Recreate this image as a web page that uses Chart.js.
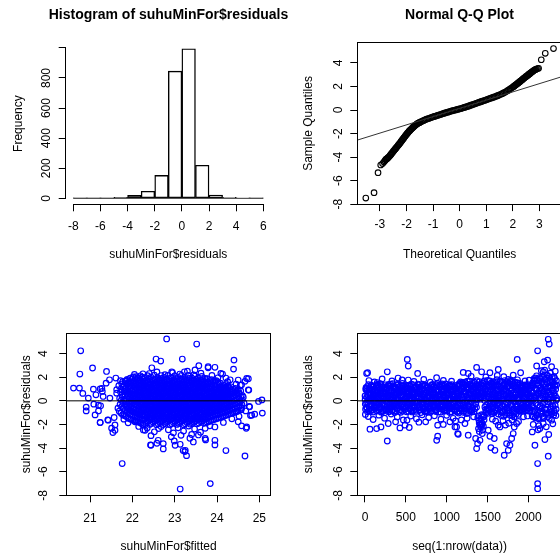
<!DOCTYPE html>
<html>
<head>
<meta charset="utf-8">
<script src="https://cdn.jsdelivr.net/npm/chart.js@4/dist/chart.umd.min.js"></script>
<style>
html,body{margin:0;padding:0;background:#fff;overflow:hidden;width:560px;height:554px;}
canvas{position:absolute;}
</style>
</head>
<body>
<canvas id="histCanvas" width="337" height="280" style="left:0;top:0"></canvas>
<canvas id="qqCanvas" width="359" height="280" style="left:280px;top:0"></canvas>
<canvas id="fitCanvas" width="290" height="264" style="left:0;top:290px"></canvas>
<canvas id="seqCanvas" width="290" height="264" style="left:280px;top:290px"></canvas>
<script>
// ---------------- DATA ----------------
// Histogram of residuals
const histBreaks = [-8,-7,-6,-5,-4,-3,-2,-1,0,1,2,3,4,5,6];
const histCounts = [1,1,1,7,20,47,153,845,994,220,22,6,2,1];
const histXTicks = [-8,-6,-4,-2,0,2,4,6];
const histXLabels = ['-8','-6','-4','-2','0','2','4','6'];
const histYTicks = [0,200,400,600,800,1000];
const histYLabels = ['0','200','400','600','800',''];

// Normal Q-Q plot: [theoretical quantile, sample quantile]
const qqPoints = [
[-3.53,-7.48],[-3.22,-7.02],[-3.07,-5.32],[-2.97,-4.67],[-2.90,-4.55],[-2.85,-4.42],[-2.81,-4.30],
[-2.78,-4.22],[-2.76,-4.17],[-2.74,-4.14],[-2.72,-4.11],[-2.70,-4.06],[-2.68,-4.02],[-2.65,-3.95],
[-2.62,-3.87],[-2.60,-3.81],[-2.57,-3.73],[-2.55,-3.66],[-2.52,-3.59],[-2.50,-3.52],[-2.47,-3.44],
[-2.45,-3.38],[-2.42,-3.30],[-2.40,-3.24],[-2.37,-3.16],[-2.35,-3.10],[-2.32,-3.02],[-2.30,-2.96],
[-2.27,-2.88],[-2.25,-2.82],[-2.22,-2.73],[-2.20,-2.67],[-2.17,-2.58],[-2.15,-2.52],[-2.12,-2.43],
[-2.10,-2.37],[-2.07,-2.28],[-2.05,-2.22],[-2.02,-2.13],[-2.00,-2.07],[-1.97,-1.99],[-1.95,-1.93],
[-1.92,-1.85],[-1.90,-1.80],[-1.87,-1.73],[-1.85,-1.68],[-1.82,-1.61],[-1.80,-1.57],[-1.77,-1.50],
[-1.75,-1.46],[-1.72,-1.40],[-1.70,-1.36],[-1.67,-1.30],[-1.65,-1.26],[-1.62,-1.21],[-1.60,-1.17],
[-1.57,-1.13],[-1.55,-1.10],[-1.52,-1.07],[-1.50,-1.05],
[-1.45,-0.99],[-1.40,-0.93],[-1.35,-0.88],[-1.30,-0.83],[-1.25,-0.78],[-1.20,-0.74],[-1.15,-0.70],
[-1.10,-0.66],[-1.05,-0.62],[-1.00,-0.58],[-0.95,-0.54],[-0.90,-0.51],[-0.85,-0.47],[-0.80,-0.44],
[-0.75,-0.40],[-0.70,-0.36],[-0.65,-0.32],[-0.60,-0.29],[-0.55,-0.25],[-0.50,-0.22],[-0.45,-0.18],
[-0.40,-0.15],[-0.35,-0.11],[-0.30,-0.08],[-0.25,-0.05],[-0.20,-0.02],[-0.15,0.01],[-0.10,0.04],
[-0.05,0.07],[0.00,0.10],[0.05,0.13],[0.10,0.17],[0.15,0.20],[0.20,0.24],[0.25,0.27],[0.30,0.31],
[0.35,0.35],[0.40,0.39],[0.45,0.43],[0.50,0.47],[0.55,0.51],[0.60,0.55],[0.65,0.59],[0.70,0.63],
[0.75,0.67],[0.80,0.71],[0.85,0.75],[0.90,0.79],[0.95,0.83],[1.00,0.87],[1.05,0.91],[1.10,0.95],
[1.15,0.99],[1.20,1.03],[1.25,1.07],[1.30,1.11],[1.35,1.15],[1.40,1.20],[1.45,1.24],[1.50,1.29],
[1.55,1.34],[1.60,1.39],[1.65,1.45],[1.70,1.51],[1.75,1.57],[1.80,1.64],[1.85,1.71],[1.90,1.79],
[1.95,1.87],[2.00,1.95],
[2.025,1.99],[2.05,2.03],[2.075,2.08],[2.10,2.12],[2.125,2.16],[2.15,2.21],[2.175,2.25],[2.20,2.30],
[2.225,2.34],[2.25,2.39],[2.275,2.43],[2.30,2.48],[2.325,2.53],[2.35,2.57],[2.375,2.62],[2.40,2.67],
[2.425,2.71],[2.45,2.76],[2.475,2.80],[2.50,2.85],[2.525,2.89],[2.55,2.93],[2.575,2.98],[2.60,3.02],
[2.625,3.07],[2.65,3.11],[2.675,3.16],[2.70,3.20],[2.725,3.25],[2.75,3.29],[2.775,3.33],[2.80,3.38],
[2.83,3.42],[2.86,3.45],[2.89,3.48],[2.93,3.52],[2.97,3.55],
[3.07,4.27],[3.22,4.82],[3.53,5.22]
];
const qqLineX = [-3.9, 3.9];
const qqLineY = [-2.59, 2.87];
const qqXTicks = [-3,-2,-1,0,1,2,3];
const qqXLabels = ['-3','-2','-1','0','1','2','3'];
const residTicks = [-8,-6,-4,-2,0,2,4];
const residLabels = ['-8','-6','-4','-2','0','2','4'];

// Residuals vs fitted: [fitted, residual]
const fittedCore = [
[21.69,-0.88],[21.71,-0.31],[21.70,0.22],[21.72,0.74],[21.68,1.28],
[21.77,-1.18],[21.79,-0.66],[21.78,-0.19],[21.76,0.35],[21.80,0.82],[21.78,1.21],[21.77,1.62],
[21.85,-1.31],[21.87,-0.92],[21.86,-0.48],[21.84,-0.05],[21.88,0.37],[21.86,0.71],[21.85,1.08],[21.87,1.43],[21.86,1.74],
[21.93,-1.52],[21.95,-1.14],[21.94,-0.79],[21.92,-0.43],[21.96,-0.09],[21.94,0.26],[21.93,0.58],[21.95,0.94],[21.94,1.27],[21.92,1.61],[21.95,1.93],
[22.01,-1.62],[22.03,-1.27],[22.02,-0.95],[22.00,-0.61],[22.04,-0.28],[22.02,0.03],[22.01,0.36],[22.03,0.68],[22.02,1.01],[22.00,1.33],[22.04,1.66],[22.02,2.02],
[22.09,-1.71],[22.11,-1.38],[22.10,-1.06],[22.08,-0.74],[22.12,-0.41],[22.10,-0.12],[22.09,0.19],[22.11,0.49],[22.10,0.81],[22.08,1.12],[22.12,1.44],[22.10,1.76],[22.09,2.05],
[22.17,-1.83],[22.19,-1.49],[22.18,-1.18],[22.16,-0.88],[22.20,-0.57],[22.18,-0.27],[22.17,0.04],[22.19,0.33],[22.18,0.62],[22.16,0.93],[22.20,1.22],[22.18,1.51],[22.17,1.80],[22.19,2.12],
[22.25,-2.04],[22.27,-1.63],[22.26,-1.29],[22.28,-1.07],[22.24,-0.79],[22.26,-0.58],[22.27,-0.31],[22.25,-0.11],[22.26,0.16],[22.28,0.36],[22.24,0.63],[22.26,0.83],[22.27,1.11],[22.25,1.32],[22.26,1.64],[22.28,1.95],
[22.33,-1.85],[22.35,-1.44],[22.34,-1.20],[22.36,-0.91],[22.32,-0.71],[22.34,-0.42],[22.35,-0.23],[22.33,0.05],[22.34,0.24],[22.36,0.52],[22.32,0.71],[22.34,0.99],[22.35,1.19],[22.33,1.49],[22.34,1.76],[22.36,2.13],
[22.41,-2.00],[22.43,-1.59],[22.42,-1.33],[22.44,-1.03],[22.40,-0.83],[22.42,-0.54],[22.43,-0.35],[22.41,-0.07],[22.42,0.12],[22.44,0.40],[22.40,0.59],[22.42,0.87],[22.43,1.07],[22.41,1.36],[22.42,1.60],[22.44,2.00],
[22.49,-1.81],[22.51,-1.48],[22.50,-1.16],[22.52,-0.95],[22.48,-0.67],[22.50,-0.46],[22.51,-0.19],[22.49,0.01],[22.50,0.28],[22.52,0.48],[22.48,0.75],[22.50,0.95],[22.51,1.23],[22.49,1.45],[22.50,1.80],[22.52,2.17],
[22.57,-2.03],[22.59,-1.62],[22.58,-1.30],[22.60,-1.06],[22.56,-0.80],[22.58,-0.57],[22.59,-0.32],[22.57,-0.10],[22.58,0.15],[22.60,0.37],[22.56,0.62],[22.58,0.84],[22.59,1.10],[22.57,1.33],[22.58,1.63],[22.60,1.97],
[22.65,-1.84],[22.67,-1.45],[22.66,-1.19],[22.68,-0.92],[22.64,-0.70],[22.66,-0.43],[22.67,-0.22],[22.65,0.04],[22.66,0.25],[22.68,0.51],[22.64,0.72],[22.66,0.98],[22.67,1.20],[22.65,1.48],[22.66,1.77],[22.68,2.14],
[22.73,-2.01],[22.75,-1.60],[22.74,-1.32],[22.76,-1.04],[22.72,-0.82],[22.74,-0.55],[22.75,-0.34],[22.73,-0.08],[22.74,0.13],[22.76,0.39],[22.72,0.60],[22.74,0.86],[22.75,1.08],[22.73,1.35],[22.74,1.61],[22.76,1.99],
[22.81,-1.82],[22.83,-1.47],[22.82,-1.17],[22.84,-0.94],[22.80,-0.68],[22.82,-0.45],[22.83,-0.20],[22.81,0.02],[22.82,0.27],[22.84,0.49],[22.80,0.74],[22.82,0.96],[22.83,1.22],[22.81,1.46],[22.82,1.79],[22.84,2.16],
[22.89,-2.03],[22.91,-1.60],[22.90,-1.30],[22.92,-1.06],[22.88,-0.80],[22.90,-0.57],[22.91,-0.31],[22.89,-0.10],[22.90,0.15],[22.92,0.37],[22.88,0.62],[22.90,0.84],[22.91,1.10],[22.89,1.35],[22.90,1.63],[22.92,1.96],
[22.97,-1.84],[22.99,-1.45],[22.98,-1.19],[23.00,-0.92],[22.96,-0.70],[22.98,-0.43],[22.99,-0.22],[22.97,0.04],[22.98,0.25],[23.00,0.51],[22.96,0.72],[22.98,0.98],[22.99,1.20],[22.97,1.48],[22.98,1.77],[23.00,2.12],
[23.05,-2.00],[23.07,-1.62],[23.06,-1.32],[23.08,-1.04],[23.04,-0.82],[23.06,-0.55],[23.07,-0.34],[23.05,-0.08],[23.06,0.13],[23.08,0.39],[23.04,0.60],[23.06,0.86],[23.07,1.08],[23.05,1.33],[23.06,1.61],[23.08,1.99],
[23.13,-1.82],[23.15,-1.47],[23.14,-1.17],[23.16,-0.94],[23.12,-0.68],[23.14,-0.45],[23.15,-0.20],[23.13,0.02],[23.14,0.27],[23.16,0.49],[23.12,0.74],[23.14,0.96],[23.15,1.22],[23.13,1.46],[23.14,1.79],[23.16,2.16],
[23.21,-2.02],[23.23,-1.61],[23.22,-1.31],[23.24,-1.05],[23.20,-0.81],[23.22,-0.56],[23.23,-0.33],[23.21,-0.09],[23.22,0.14],[23.24,0.38],[23.20,0.61],[23.22,0.85],[23.23,1.09],[23.21,1.34],[23.22,1.62],[23.24,1.98],
[23.29,-1.83],[23.31,-1.46],[23.30,-1.18],[23.32,-0.93],[23.28,-0.69],[23.30,-0.44],[23.31,-0.21],[23.29,0.03],[23.30,0.26],[23.32,0.50],[23.28,0.73],[23.30,0.97],[23.31,1.21],[23.29,1.47],[23.30,1.78],[23.32,2.15],
[23.37,-1.98],[23.39,-1.63],[23.38,-1.29],[23.40,-1.07],[23.36,-0.79],[23.38,-0.58],[23.39,-0.31],[23.37,-0.11],[23.38,0.16],[23.40,0.36],[23.36,0.63],[23.38,0.83],[23.39,1.11],[23.37,1.32],[23.38,1.64],[23.40,1.94],
[23.45,-1.80],[23.47,-1.44],[23.46,-1.20],[23.48,-0.91],[23.44,-0.71],[23.46,-0.42],[23.47,-0.23],[23.45,0.05],[23.46,0.24],[23.48,0.52],[23.44,0.71],[23.46,0.99],[23.47,1.19],[23.45,1.49],[23.46,1.76],[23.48,2.10],
[23.53,-1.95],[23.55,-1.59],[23.54,-1.33],[23.56,-1.03],[23.52,-0.83],[23.54,-0.54],[23.55,-0.35],[23.53,-0.07],[23.54,0.12],[23.56,0.40],[23.52,0.59],[23.54,0.87],[23.55,1.07],[23.53,1.36],[23.54,1.60],[23.56,1.93],
[23.61,-1.78],[23.63,-1.48],[23.62,-1.16],[23.64,-0.95],[23.60,-0.67],[23.62,-0.46],[23.63,-0.19],[23.61,0.01],[23.62,0.28],[23.64,0.48],[23.60,0.75],[23.62,0.95],[23.63,1.23],[23.61,1.45],[23.62,1.74],[23.64,2.06],
[23.69,-1.90],[23.71,-1.57],[23.70,-1.30],[23.72,-1.06],[23.68,-0.80],[23.70,-0.57],[23.71,-0.32],[23.69,-0.10],[23.70,0.15],[23.72,0.37],[23.68,0.62],[23.70,0.84],[23.71,1.10],[23.69,1.33],[23.70,1.60],[23.72,1.90],
[23.77,-1.81],[23.79,-1.44],[23.78,-1.13],[23.80,-0.85],[23.76,-0.58],[23.78,-0.31],[23.79,-0.05],[23.77,0.22],[23.78,0.48],[23.80,0.75],[23.76,1.02],[23.78,1.31],[23.79,1.58],[23.77,1.88],
[23.85,-1.69],[23.87,-1.32],[23.86,-1.02],[23.88,-0.74],[23.84,-0.47],[23.86,-0.19],[23.87,0.07],[23.85,0.34],[23.86,0.60],[23.88,0.87],[23.84,1.15],[23.86,1.45],[23.87,1.79],
[23.93,-1.58],[23.95,-1.21],[23.94,-0.90],[23.96,-0.61],[23.92,-0.33],[23.94,-0.06],[23.95,0.21],[23.93,0.47],[23.94,0.74],[23.96,1.02],[23.92,1.33],[23.94,1.68],
[24.01,-1.49],[24.03,-1.14],[24.02,-0.84],[24.04,-0.55],[24.00,-0.27],[24.02,0.00],[24.03,0.26],[24.01,0.53],[24.02,0.80],[24.04,1.07],[24.00,1.34],[24.02,1.61],
[24.09,-1.38],[24.11,-1.04],[24.10,-0.73],[24.12,-0.44],[24.08,-0.16],[24.10,0.11],[24.11,0.38],[24.09,0.65],[24.10,0.93],[24.12,1.21],[24.08,1.49],
[24.17,-1.29],[24.19,-0.96],[24.18,-0.65],[24.20,-0.35],[24.16,-0.06],[24.18,0.22],[24.19,0.50],[24.17,0.78],[24.18,1.07],[24.20,1.38],
[24.25,-1.18],[24.27,-0.84],[24.26,-0.52],[24.28,-0.21],[24.24,0.08],[24.26,0.37],[24.27,0.66],[24.25,0.96],[24.26,1.27],
[24.33,-1.07],[24.35,-0.71],[24.34,-0.38],[24.36,-0.06],[24.32,0.25],[24.34,0.56],[24.35,0.87],[24.33,1.19],
[24.41,-0.98],[24.43,-0.61],[24.42,-0.27],[24.44,0.05],[24.40,0.38],[24.42,0.71],[24.43,1.06],
[24.49,-0.87],[24.51,-0.49],[24.50,-0.13],[24.52,0.22],[24.48,0.57],[24.50,0.95],
[24.57,-0.76],[24.59,-0.35],[24.58,0.04],[24.60,0.43],[24.56,0.84]
];
const fittedCoreB = [
[21.73,-1.02],[21.75,-0.49],[21.74,0.05],[21.76,0.52],[21.73,0.98],[21.75,1.44],
[21.81,-1.24],[21.83,-0.78],[21.82,-0.33],[21.80,0.13],[21.83,0.55],[21.82,0.94],[21.81,1.30],[21.83,1.66],
[21.89,-1.42],[21.91,-1.03],[21.90,-0.65],[21.88,-0.27],[21.92,0.12],[21.90,0.47],[21.89,0.80],[21.91,1.15],[21.90,1.50],[21.88,1.82],
[21.97,-1.55],[21.99,-1.19],[21.98,-0.83],[21.96,-0.48],[22.00,-0.15],[21.98,0.18],[21.97,0.51],[21.99,0.84],[21.98,1.17],[21.96,1.50],[21.99,1.83],
[22.05,-1.66],[22.07,-1.31],[22.06,-0.98],[22.04,-0.66],[22.08,-0.34],[22.06,-0.04],[22.05,0.27],[22.07,0.58],[22.06,0.90],[22.04,1.22],[22.08,1.54],[22.06,1.88],
[22.13,-1.77],[22.15,-1.43],[22.14,-1.12],[22.12,-0.81],[22.16,-0.50],[22.14,-0.20],[22.13,0.11],[22.15,0.41],[22.14,0.72],[22.12,1.02],[22.16,1.33],[22.14,1.64],[22.13,1.95],
[22.21,-1.90],[22.23,-1.55],[22.22,-1.24],[22.20,-0.95],[22.24,-0.66],[22.22,-0.37],[22.21,-0.08],[22.23,0.22],[22.22,0.50],[22.20,0.78],[22.24,1.06],[22.22,1.37],[22.21,1.67],[22.23,2.00],
[22.29,-1.93],[22.31,-1.52],[22.30,-1.24],[22.32,-0.98],[22.28,-0.74],[22.30,-0.50],[22.31,-0.27],[22.29,-0.04],[22.30,0.19],[22.32,0.43],[22.28,0.66],[22.30,0.90],[22.31,1.14],[22.29,1.40],[22.30,1.69],
[22.37,-1.72],[22.39,-1.38],[22.38,-1.10],[22.40,-0.86],[22.36,-0.62],[22.38,-0.38],[22.39,-0.15],[22.37,0.09],[22.38,0.32],[22.40,0.56],[22.36,0.79],[22.38,1.03],[22.39,1.28],[22.37,1.55],[22.38,1.88],
[22.45,-1.91],[22.47,-1.54],[22.46,-1.23],[22.48,-0.99],[22.44,-0.73],[22.46,-0.51],[22.47,-0.26],[22.45,-0.05],[22.46,0.20],[22.48,0.42],[22.44,0.67],[22.46,0.89],[22.47,1.15],[22.45,1.39],[22.46,1.70],
[22.53,-1.70],[22.55,-1.39],[22.54,-1.09],[22.56,-0.87],[22.52,-0.61],[22.54,-0.39],[22.55,-0.14],[22.53,0.08],[22.54,0.33],[22.56,0.55],[22.52,0.80],[22.54,1.02],[22.55,1.29],[22.53,1.54],[22.54,1.86],
[22.61,-1.94],[22.63,-1.51],[22.62,-1.25],[22.64,-0.97],[22.60,-0.75],[22.62,-0.49],[22.63,-0.28],[22.61,-0.03],[22.62,0.18],[22.64,0.44],[22.60,0.65],[22.62,0.91],[22.63,1.13],[22.61,1.41],[22.62,1.68],
[22.69,-1.73],[22.71,-1.37],[22.70,-1.11],[22.72,-0.85],[22.68,-0.63],[22.70,-0.37],[22.71,-0.16],[22.69,0.10],[22.70,0.31],[22.72,0.57],[22.68,0.78],[22.70,1.04],[22.71,1.27],[22.69,1.56],[22.70,1.89],
[22.77,-1.92],[22.79,-1.53],[22.78,-1.24],[22.80,-0.98],[22.76,-0.74],[22.78,-0.50],[22.79,-0.27],[22.77,-0.04],[22.78,0.19],[22.80,0.43],[22.76,0.66],[22.78,0.90],[22.79,1.14],[22.77,1.40],[22.78,1.69],
[22.85,-1.71],[22.87,-1.38],[22.86,-1.10],[22.88,-0.86],[22.84,-0.62],[22.86,-0.38],[22.87,-0.15],[22.85,0.09],[22.86,0.32],[22.88,0.56],[22.84,0.79],[22.86,1.03],[22.87,1.28],[22.85,1.55],[22.86,1.88],
[22.93,-1.93],[22.95,-1.52],[22.94,-1.24],[22.96,-0.98],[22.92,-0.74],[22.94,-0.50],[22.95,-0.27],[22.93,-0.04],[22.94,0.19],[22.96,0.43],[22.92,0.66],[22.94,0.90],[22.95,1.14],[22.93,1.40],[22.94,1.69],
[23.01,-1.72],[23.03,-1.38],[23.02,-1.10],[23.04,-0.86],[23.00,-0.62],[23.02,-0.38],[23.03,-0.15],[23.01,0.09],[23.02,0.32],[23.04,0.56],[23.00,0.79],[23.02,1.03],[23.03,1.28],[23.01,1.55],[23.02,1.88],
[23.09,-1.91],[23.11,-1.54],[23.10,-1.23],[23.12,-0.99],[23.08,-0.73],[23.10,-0.51],[23.11,-0.26],[23.09,-0.05],[23.10,0.20],[23.12,0.42],[23.08,0.67],[23.10,0.89],[23.11,1.15],[23.09,1.39],[23.10,1.70],
[23.17,-1.70],[23.19,-1.39],[23.18,-1.09],[23.20,-0.87],[23.16,-0.61],[23.18,-0.39],[23.19,-0.14],[23.17,0.08],[23.18,0.33],[23.20,0.55],[23.16,0.80],[23.18,1.02],[23.19,1.29],[23.17,1.54],[23.18,1.86],
[23.25,-1.94],[23.27,-1.51],[23.26,-1.25],[23.28,-0.97],[23.24,-0.75],[23.26,-0.49],[23.27,-0.28],[23.25,-0.03],[23.26,0.18],[23.28,0.44],[23.24,0.65],[23.26,0.91],[23.27,1.13],[23.25,1.41],[23.26,1.68],
[23.33,-1.73],[23.35,-1.37],[23.34,-1.11],[23.36,-0.85],[23.32,-0.63],[23.34,-0.37],[23.35,-0.16],[23.33,0.10],[23.34,0.31],[23.36,0.57],[23.32,0.78],[23.34,1.04],[23.35,1.27],[23.33,1.56],[23.34,1.89],
[23.41,-1.92],[23.43,-1.53],[23.42,-1.24],[23.44,-0.98],[23.40,-0.74],[23.42,-0.50],[23.43,-0.27],[23.41,-0.04],[23.42,0.19],[23.44,0.43],[23.40,0.66],[23.42,0.90],[23.43,1.14],[23.41,1.40],[23.42,1.69],
[23.49,-1.71],[23.51,-1.38],[23.50,-1.10],[23.52,-0.86],[23.48,-0.62],[23.50,-0.38],[23.51,-0.15],[23.49,0.09],[23.50,0.32],[23.52,0.56],[23.48,0.79],[23.50,1.03],[23.51,1.28],[23.49,1.55],[23.50,1.84],
[23.57,-1.88],[23.59,-1.52],[23.58,-1.24],[23.60,-0.98],[23.56,-0.74],[23.58,-0.50],[23.59,-0.27],[23.57,-0.04],[23.58,0.19],[23.60,0.43],[23.56,0.66],[23.58,0.90],[23.59,1.14],[23.57,1.40],[23.58,1.67],
[23.65,-1.70],[23.67,-1.38],[23.66,-1.10],[23.68,-0.86],[23.64,-0.62],[23.66,-0.38],[23.67,-0.15],[23.65,0.09],[23.66,0.32],[23.68,0.56],[23.64,0.79],[23.66,1.03],[23.67,1.28],[23.65,1.55],[23.66,1.80],
[23.73,-1.85],[23.75,-1.50],[23.74,-1.22],[23.76,-0.97],[23.72,-0.73],[23.74,-0.49],[23.75,-0.26],[23.73,-0.03],[23.74,0.20],[23.76,0.44],[23.72,0.67],[23.74,0.91],[23.75,1.15],[23.73,1.42],[23.74,1.70],
[23.81,-1.74],[23.83,-1.36],[23.82,-1.05],[23.84,-0.78],[23.80,-0.51],[23.82,-0.24],[23.83,0.02],[23.81,0.29],[23.82,0.55],[23.84,0.82],[23.80,1.10],[23.82,1.40],[23.83,1.72],
[23.89,-1.62],[23.91,-1.25],[23.90,-0.95],[23.92,-0.67],[23.88,-0.40],[23.90,-0.13],[23.91,0.14],[23.89,0.41],[23.90,0.68],[23.92,0.95],[23.88,1.25],[23.90,1.58],
[23.97,-1.53],[23.99,-1.17],[23.98,-0.87],[24.00,-0.58],[23.96,-0.30],[23.98,-0.03],[23.99,0.24],[23.97,0.50],[23.98,0.77],[24.00,1.05],[23.96,1.36],[23.98,1.70],
[24.05,-1.43],[24.07,-1.09],[24.06,-0.78],[24.08,-0.49],[24.04,-0.21],[24.06,0.06],[24.07,0.33],[24.05,0.60],[24.06,0.87],[24.08,1.15],[24.04,1.43],
[24.13,-1.33],[24.15,-0.99],[24.14,-0.69],[24.16,-0.39],[24.12,-0.11],[24.14,0.17],[24.15,0.44],[24.13,0.72],[24.14,1.00],[24.16,1.30],
[24.21,-1.23],[24.23,-0.90],[24.22,-0.58],[24.24,-0.28],[24.20,0.02],[24.22,0.30],[24.23,0.59],[24.21,0.88],[24.22,1.20],
[24.29,-1.12],[24.31,-0.77],[24.30,-0.45],[24.32,-0.13],[24.28,0.17],[24.30,0.47],[24.31,0.78],[24.29,1.10],
[24.37,-1.02],[24.39,-0.66],[24.38,-0.32],[24.40,0.00],[24.36,0.32],[24.38,0.64],[24.39,0.97],
[24.45,-0.92],[24.47,-0.55],[24.46,-0.20],[24.48,0.14],[24.44,0.48],[24.46,0.83],
[24.53,-0.80],[24.55,-0.42],[24.54,-0.05],[24.56,0.32],[24.52,0.70]
];
const fittedEdge = [
[22.35,-2.31],[22.52,-2.62],[22.68,-2.18],[22.85,-2.45],[22.97,-2.71],[23.08,-2.28],[23.21,-2.56],[23.33,-2.14],
[23.47,-2.39],[23.61,-2.66],[23.83,-2.12],[22.44,-2.95],[22.92,-3.05],[23.15,-2.92],[23.40,-2.85],[22.62,-2.35],
[22.40,2.31],[22.58,2.45],[22.77,2.22],[22.95,2.38],[23.12,2.27],[23.30,2.51],[23.45,2.19],[23.62,2.34],[23.88,2.16],
[22.25,2.29],[22.05,2.24],[24.02,1.95],[24.25,1.62],[24.45,1.41],[21.90,-1.86],[21.80,-1.55],[22.15,-2.17],
[21.66,-0.62],[21.63,0.95],[21.72,1.71],[24.35,-1.52],[24.52,-1.31],[24.15,-1.83],[24.62,0.31],[24.68,-0.85],[24.55,1.33],
[20.78,4.24],[22.81,5.24],[20.76,2.27],[21.06,2.78],[20.61,1.08],[20.75,1.08],[20.83,0.63],[20.96,0.23],[20.91,-0.53],
[20.91,-0.85],[21.09,-0.28],[21.08,0.99],[21.24,1.02],[21.29,0.80],[21.25,-0.42],[21.20,-0.85],[21.12,-1.19],[21.24,-1.83],
[21.42,-1.61],[21.39,2.49],[21.46,1.78],[21.38,1.50],[21.51,-2.32],[21.54,-2.68],[21.59,-2.04],[21.57,-1.41],[21.76,-5.31],
[21.14,0.51],[21.31,0.37],[21.47,0.23],[21.63,0.65],[21.61,1.93],[22.10,-1.75],[22.26,-2.46],[22.43,-3.73],[22.58,-3.59],
[22.73,-4.07],[23.52,4.81],[23.18,3.54],[23.57,2.97],[23.79,2.89],[24.40,3.45],[24.39,2.69],[24.50,1.76],[24.74,1.87],
[24.74,0.93],[25.06,0.08],[24.98,-0.05],[25.07,-1.04],[24.89,-1.13],[24.79,-1.24],[24.69,-2.32],[24.58,-2.12],[24.66,-4.67],
[24.21,-4.21],[23.95,-3.73],[23.95,-3.34],[23.73,-3.31],[23.84,-7.01],[23.13,-7.47],[23.24,-4.30],[23.28,-4.64],[23.20,-4.21],
[22.99,-3.40],[23.13,-3.68],[23.36,-3.17],[23.56,-2.89],[23.72,-2.32],[24.21,1.93],[24.31,1.78],[24.66,1.65],[24.58,1.36],
[24.51,0.63],[24.64,-0.20],[24.76,-0.48],[24.58,-0.62],[24.46,-0.90],[24.13,2.27],[23.95,2.84],
[22.56,3.54],[22.67,3.37],[22.46,2.80],[22.93,2.46],[23.23,2.46],[23.48,2.61],[23.79,2.80],[24.09,2.33],[24.70,1.90],
[24.75,0.91],[24.77,-0.51],[24.82,-1.21],[24.50,-1.78],[24.70,-2.21],[23.95,-2.21],[23.72,-3.19],[23.44,-3.48],[23.25,-4.19],
[23.01,-3.76],[22.73,-3.62],[22.61,-3.34],[22.44,-3.76],[22.30,-2.49],[22.06,-1.78],[21.59,-2.49],[21.43,-1.64],[21.24,-1.84],
[21.20,-0.37],[21.28,1.05]
];
const fittedXTicks = [21,22,23,24,25];
const fittedXLabels = ['21','22','23','24','25'];

// Residuals vs observation index: [index, residual]
const indexCore = [
[1,0.42],[7,-0.71],[13,1.12],[19,-0.18],[25,0.86],[31,-0.93],[37,0.07],[43,1.38],[49,-0.45],[55,0.63],
[61,-0.02],[67,1.01],[73,-0.82],[79,0.29],[85,0.95],[91,-0.36],[97,1.24],[103,-0.58],[109,0.51],[115,0.16],
[121,-0.64],[127,0.88],[133,-0.11],[139,1.31],[145,-0.87],[151,0.37],[157,0.71],[163,-0.29],[169,1.07],[175,0.02],
[181,-0.52],[187,1.46],[193,0.23],[199,-0.96],[205,0.58],[211,1.18],[217,-0.21],[223,0.79],[229,-0.74],[235,0.33],
[241,1.05],[247,-0.39],[253,0.19],[259,-0.79],[265,0.93],[271,0.47],[277,-0.06],[283,1.27],[289,-0.62],[295,0.68],
[301,-0.91],[307,0.12],[313,1.41],[319,-0.25],[325,0.55],[331,-0.49],[337,0.84],[343,0.31],[349,-0.15],[355,1.16],
[361,0.27],[367,-0.84],[373,0.98],[379,-0.33],[385,0.61],[391,1.34],[397,-0.68],[403,0.09],[409,0.76],[415,-0.44],
[421,1.19],[427,-0.14],[433,0.45],[439,-0.97],[445,0.82],[451,0.05],[457,1.47],[463,-0.57],[469,0.36],[475,-0.27],
[481,0.91],[487,-0.76],[493,0.14],[499,1.29],[505,-0.48],[511,0.67],[517,-0.09],[523,1.08],[529,-0.88],[535,0.41],
[541,0.73],[547,-0.31],[553,1.22],[559,-0.65],[565,0.18],[571,0.99],[577,-0.94],[583,0.52],[589,-0.17],[595,1.36],
[601,-0.41],[607,0.64],[613,0.03],[619,1.13],[625,-0.79],[631,0.39],[637,0.87],[643,-0.23],[649,1.42],[655,-0.60],
[661,0.21],[667,1.02],[673,-0.47],[679,0.74],[685,-0.99],[691,0.31],[697,1.25],[703,-0.12],[709,0.56],[715,-0.72],
[721,0.94],[727,0.08],[733,-0.55],[739,1.33],[745,-0.26],[751,0.69],[757,-0.86],[763,0.43],[769,1.11],[775,-0.04],
[781,-0.69],[787,0.83],[793,0.26],[799,-0.38],[805,1.20],[811,-0.90],[817,0.50],[823,0.01],[829,1.39],[835,-0.53],
[841,0.62],[847,-0.20],[853,1.06],[859,-0.77],[865,0.35],[871,0.92],[877,-0.43],[883,1.28],[889,-0.08],[895,0.47],
[901,-0.95],[907,0.78],[913,0.15],[919,1.17],[925,-0.34],[931,0.58],[937,-0.70],[943,1.44],[949,0.24],[955,-0.50],
[961,0.86],[967,-0.13],[973,1.30],[979,-0.81],[985,0.40],[991,0.04],[997,1.09],[1003,-0.61],[1009,0.71],[1015,-0.28],
[1021,1.21],[1027,-0.46],[1033,0.53],[1039,-0.98],[1045,0.97],[1051,0.19],[1057,-0.37],[1063,1.37],[1069,-0.66],[1075,0.30],
[1081,0.80],[1087,-0.10],[1093,1.15],[1099,-0.83],[1105,0.44],[1111,1.00],[1117,-0.54],[1123,0.13],[1129,1.32],[1135,-0.30],
[1141,0.66],[1147,-1.04],[1153,1.23],[1159,-0.24],[1165,0.88],[1171,1.61],[1177,-0.63],[1183,0.32],[1189,1.05],[1195,-0.41],
[1201,1.48],[1207,0.11],[1213,-0.86],[1219,0.73],[1225,-0.19],[1231,1.34],[1237,0.45],[1243,-1.08],[1249,0.97],[1255,1.67],
[1261,-0.52],[1267,0.26],[1273,1.12],[1279,-0.73],[1285,0.59],[1291,1.44],[1297,-0.06],[1303,0.83],[1309,-0.95],[1315,0.38],
[1321,1.27],[1327,-0.33],[1333,0.70],[1339,1.58],[1345,-0.68],[1351,0.16],[1357,1.02],[1363,0.48],[1369,1.71],[1375,0.09],
[1381,-1.42],[1387,0.62],[1393,1.36],[1399,-1.87],[1405,0.25],[1411,1.09],[1417,-2.21],[1423,0.81],[1429,-1.18],[1435,1.55],
[1441,-2.48],[1447,0.43],[1453,1.22],[1459,-1.61],[1465,0.02],[1471,0.96],[1477,-0.74],[1483,1.43],[1489,-0.35],[1495,0.57],
[1501,1.74],[1507,-1.06],[1513,0.31],[1519,1.18],[1525,-0.47],[1531,0.79],[1537,-0.15],[1543,1.50],[1549,-0.89],[1555,0.46],
[1561,1.03],[1567,-0.28],[1573,1.62],[1579,0.14],[1585,-0.99],[1591,0.68],[1597,1.31],[1603,-0.58],[1609,0.37],[1615,1.79],
[1621,-0.21],[1627,0.91],[1633,-1.12],[1639,0.52],[1645,1.40],[1651,-0.63],[1657,0.05],[1663,1.13],[1669,-1.25],[1675,0.74],
[1681,1.56],[1687,-0.44],[1693,0.28],[1699,-1.31],[1705,0.97],[1711,1.72],[1717,-0.79],[1723,0.41],[1729,-0.12],[1735,1.24],
[1741,-1.07],[1747,0.63],[1753,1.49],[1759,-0.56],[1765,0.19],[1771,1.08],[1777,-1.22],[1783,0.86],[1789,-0.30],[1795,1.66],
[1801,0.35],[1807,-0.93],[1813,1.27],[1819,0.02],[1825,-1.36],[1831,0.72],[1837,1.58],[1843,-0.48],[1849,0.49],[1855,1.13],
[1861,-0.71],[1867,1.78],[1873,0.23],[1879,-1.15],[1885,0.94],[1891,-0.17],[1897,1.21],[1903,-0.62],[1909,0.55],[1915,1.03],
[1921,-0.38],[1927,0.77],[1933,-0.86],[1939,1.32],[1945,0.12],[1951,-0.51],[1957,0.93],[1963,0.34],[1969,-0.19],[1975,1.16],
[1981,-0.74],[1987,0.58],[1993,1.38],[1999,-0.27],[2005,0.20],[2011,0.98],[2017,-0.89],[2023,0.44],[2029,1.24],[2035,-0.06],
[2041,0.67],[2047,-1.28],[2053,1.52],[2059,0.09],[2065,-0.63],[2071,1.87],[2077,0.38],[2083,-1.44],[2089,1.05],[2095,-0.21],
[2101,2.12],[2107,0.53],[2113,-0.97],[2119,1.33],[2125,-1.52],[2131,0.81],[2137,1.96],[2143,-0.42],[2149,0.24],[2155,1.61],
[2161,-1.13],[2167,0.95],[2173,2.05],[2179,-0.31],[2185,0.60],[2191,-1.38],[2197,1.42],[2203,0.17],[2209,1.83],[2215,-0.78],
[2221,0.43],[2227,2.19],[2233,-1.06],[2239,1.19],[2245,-0.08],[2251,0.74],[2257,-1.47],[2263,1.71],[2269,0.31],[2275,-0.55],
[2281,1.27],[2287,-0.92],[2293,2.00],[2299,0.05],[2305,1.48],[2311,-1.20],[2317,0.66],[2323,1.89],[2329,-0.37],[2335,0.98],
[2341,-0.71],[2347,1.35]
];
const indexCoreB = [
[4,-0.27],[10,0.95],[16,-0.55],[22,0.33],[28,1.21],[34,-0.12],[40,0.68],[46,-0.84],[52,0.14],[58,1.02],
[64,0.55],[70,-0.41],[76,1.33],[82,-0.73],[88,0.21],[94,0.82],[100,-0.95],[106,1.15],[112,-0.08],[118,0.44],
[124,0.97],[130,-0.33],[136,0.61],[142,-0.58],[148,1.40],[154,-0.17],[160,0.26],[166,0.88],[172,-0.79],[178,1.19],
[184,0.08],[190,-0.66],[196,0.74],[202,1.28],[208,-0.24],[214,0.39],[220,-0.89],[226,1.04],[232,0.17],[238,-0.47],
[244,0.59],[250,1.36],[256,-0.71],[262,0.28],[268,-0.14],[274,1.11],[280,0.43],[286,-0.92],[292,0.86],[298,-0.31],
[304,1.24],[310,-0.56],[316,0.37],[322,0.91],[328,-0.83],[334,0.06],[340,1.45],[346,-0.39],[352,0.65],[358,-0.05],
[364,-0.98],[370,0.52],[376,1.17],[382,-0.21],[388,0.79],[394,-0.62],[400,0.24],[406,1.39],[412,-0.44],[418,0.11],
[424,0.72],[430,-0.75],[436,1.06],[442,0.33],[448,-0.28],[454,0.93],[460,-0.86],[466,1.27],[472,0.04],[478,0.57],
[484,-0.52],[490,1.14],[496,-0.18],[502,0.63],[508,-0.93],[514,0.41],[520,1.31],[526,-0.36],[532,0.85],[538,0.12],
[544,-0.67],[550,0.49],[556,0.98],[562,-0.24],[568,1.42],[574,-0.46],[580,0.22],[586,0.76],[592,-0.81],[598,0.35],
[604,1.09],[610,-0.15],[616,0.57],[622,-0.90],[628,1.23],[634,-0.04],[640,0.69],[646,-0.53],[652,0.29],[658,1.35],
[664,-0.37],[670,0.61],[676,-0.78],[682,1.16],[688,0.19],[694,-0.26],[700,0.88],[706,1.41],[712,-0.63],[718,0.47],
[724,-0.16],[730,1.26],[736,0.32],[742,-0.85],[748,0.73],[754,0.02],[760,1.12],[766,-0.49],[772,0.54],[778,-0.93],
[784,0.39],[790,1.03],[796,-0.59],[802,0.66],[808,-0.07],[814,1.33],[820,-0.82],[826,0.25],[832,0.90],[838,-0.35],
[844,1.18],[850,-0.48],[856,0.45],[862,0.07],[868,-0.91],[874,1.38],[880,0.18],[886,-0.29],[892,0.81],[898,-0.64],
[904,0.36],[910,1.22],[916,-0.40],[922,0.60],[928,-0.96],[934,0.97],[940,0.13],[946,-0.22],[952,1.29],[958,0.51],
[964,-0.77],[970,0.27],[976,0.84],[982,-0.45],[988,1.44],[994,-0.11],[1000,0.64],[1006,-0.87],[1012,1.07],[1018,0.20],
[1024,-0.32],[1030,0.89],[1036,1.34],[1042,-0.60],[1048,0.08],[1054,0.75],[1060,-0.92],[1066,0.42],[1072,1.20],[1078,-0.19],
[1084,0.58],[1090,-0.72],[1096,0.30],[1102,1.13],[1108,-0.42],[1114,0.86],[1120,-0.01],[1126,-0.94],[1132,0.70],[1138,1.25],
[1144,-0.35],[1150,0.41],[1156,-0.88],[1162,1.37],[1168,0.12],[1174,-0.46],[1180,0.96],[1186,1.52],[1192,-0.70],[1198,0.27],
[1204,-0.97],[1210,0.84],[1216,0.35],[1222,1.58],[1228,-0.54],[1234,0.62],[1240,1.19],[1246,-0.23],[1252,0.08],[1258,-1.02],
[1264,1.05],[1270,-0.38],[1276,0.50],[1282,1.66],[1288,-0.83],[1294,0.19],[1300,0.93],[1306,-0.13],[1312,1.29],[1318,-0.60],
[1324,0.22],[1330,1.47],[1336,-0.91],[1342,0.58],[1348,1.10],[1354,-0.27],[1360,0.75],[1366,-0.55],[1372,1.25],[1378,0.36],
[1384,1.12],[1390,-1.28],[1396,0.47],[1402,1.63],[1408,-2.05],[1414,0.14],[1420,-1.55],[1426,1.30],[1432,0.66],[1438,-1.92],
[1444,0.98],[1450,-1.21],[1456,0.31],[1462,1.68],[1468,-0.52],[1474,0.79],[1480,-1.03],[1486,0.20],[1492,1.16],[1498,-0.67],
[1504,0.39],[1510,1.27],[1516,-0.79],[1522,0.60],[1528,1.69],[1534,-0.30],[1540,0.95],[1546,0.13],[1552,-1.08],[1558,1.41],
[1564,-0.53],[1570,0.78],[1576,-0.09],[1582,1.25],[1588,0.44],[1594,-0.84],[1600,1.57],[1606,0.06],[1612,-0.38],[1618,0.99],
[1624,1.36],[1630,-0.72],[1636,0.24],[1642,-0.14],[1648,0.85],[1654,1.66],[1660,-0.95],[1666,0.40],[1672,1.02],[1678,-0.46],
[1684,0.11],[1690,1.33],[1696,-0.90],[1702,0.57],[1708,-0.26],[1714,1.05],[1720,-1.18],[1726,0.81],[1732,1.61],[1738,-0.58],
[1744,0.30],[1750,-0.17],[1756,1.21],[1762,0.68],[1768,-1.02],[1774,0.45],[1780,1.74],[1786,-0.40],[1792,0.07],[1798,0.92],
[1804,-1.25],[1810,0.61],[1816,1.45],[1822,-0.69],[1828,0.28],[1834,-0.06],[1840,1.12],[1846,0.50],[1852,-1.10],[1858,1.53],
[1864,0.14],[1870,-0.50],[1876,1.02],[1882,0.39],[1888,-0.89],[1894,1.48],[1900,0.66],[1906,-0.24],[1912,1.27],[1918,-0.78],
[1924,0.52],[1930,1.10],[1936,-0.15],[1942,-0.66],[1948,0.83],[1954,0.25],[1960,1.36],[1966,-0.48],[1972,0.61],[1978,-0.85],
[1984,0.09],[1990,1.19],[1996,-0.58],[2002,0.71],[2008,-0.20],[2014,1.29],[2020,0.36],[2026,-0.73],[2032,0.87],[2038,0.18],
[2044,1.33],[2050,-0.46],[2056,0.72],[2062,-1.35],[2068,1.66],[2074,0.22],[2080,-0.85],[2086,1.94],[2092,0.47],[2098,-1.17],
[2104,0.95],[2110,1.72],[2116,-0.36],[2122,0.58],[2128,-1.41],[2134,1.24],[2140,0.10],[2146,1.85],[2152,-0.90],[2158,0.66],
[2164,1.50],[2170,-0.60],[2176,0.35],[2182,-1.48],[2188,1.98],[2194,0.82],[2200,-0.12],[2206,1.15],[2212,-1.02],[2218,0.49],
[2224,-0.27],[2230,1.57],[2236,0.70],[2242,-1.33],[2248,2.08],[2254,0.16],[2260,1.08],[2266,-0.68],[2272,1.78],[2278,0.52],
[2284,-1.10],[2290,0.90],[2296,1.62],[2302,-0.45],[2308,0.29],[2314,2.05],[2320,-0.88],[2326,1.21],[2332,0.40],[2338,-1.24],
[2344,1.70],[2350,0.20]
];
const indexCoreC = [
[2,0.12],[14,1.05],[26,-0.62],[38,0.47],[50,0.91],[62,-0.28],[74,0.66],[86,-0.79],[98,0.35],[110,1.21],
[122,0.03],[134,-0.48],[146,0.78],[158,1.32],[170,-0.14],[182,0.54],[194,-0.91],[206,0.97],[218,0.21],[230,-0.37],
[242,1.17],[254,0.61],[266,-0.69],[278,0.29],[290,1.40],[302,-0.23],[314,0.83],[326,0.07],[338,-0.81],[350,0.49],
[362,1.09],[374,-0.45],[386,0.24],[398,0.92],[410,-0.06],[422,-0.88],[434,1.26],[446,0.41],[458,-0.31],[470,0.74],
[482,0.16],[494,-0.64],[506,1.02],[518,0.58],[530,-0.19],[542,1.33],[554,0.09],[566,-0.83],[578,0.67],[590,0.31],
[602,-0.52],[614,0.95],[626,1.18],[638,-0.10],[650,0.44],[662,-0.75],[674,0.86],[686,0.19],[698,-0.40],[710,1.29],
[722,0.52],[734,-0.92],[746,0.71],[758,1.10],[770,-0.25],[782,0.37],[794,-0.60],[806,0.99],[818,0.13],[830,-0.33],
[842,1.23],[854,0.60],[866,-0.78],[878,0.26],[890,0.88],[902,-0.16],[914,1.36],[926,0.05],[938,-0.50],[950,0.77],
[962,0.34],[974,-0.86],[986,1.14],[998,0.48],[1010,-0.21],[1022,0.69],[1034,-0.63],[1046,1.24],[1058,0.17],[1070,-0.42],
[1082,0.94],[1094,0.28],[1106,-0.77],[1118,1.07],[1130,0.55],[1142,-0.18],
[1154,1.45],[1166,-0.70],[1178,0.51],[1190,1.20],[1202,-0.35],[1214,0.79],[1226,1.53],[1238,-0.90],[1250,0.33],[1262,1.00],
[1274,-0.46],[1286,1.31],[1298,0.58],[1310,-0.80],[1322,0.14],[1334,1.12],[1346,0.40],[1358,-0.25],[1370,1.38],
[1382,0.72],[1394,-1.60],[1406,1.18],[1418,0.35],[1430,-2.05],[1442,1.47],[1454,-1.35],[1466,0.60],[1478,1.05],[1490,-0.88],
[1502,0.86],[1514,-0.62],[1526,1.35],[1538,0.23],[1550,-0.95],[1562,0.64],[1574,1.55],[1586,-0.19],[1598,0.92],[1610,-0.76],
[1622,1.23],[1634,0.41],[1646,-0.35],[1658,1.61],[1670,0.12],
[1682,-0.98],[1694,0.88],[1706,1.40],[1718,-0.30],[1730,0.52],[1742,1.15],[1754,-0.82],[1766,0.30],[1778,1.62],[1790,-0.50],
[1802,0.93],[1814,0.18],[1826,-1.05],[1838,1.30],[1850,0.61],[1862,-0.37],[1874,1.49],[1886,0.05],[1898,-0.85],[1910,0.80],
[1922,1.22],[1934,0.40],[1946,-0.70],[1958,0.66],[1970,1.28],[1982,-0.10],[1994,0.50],[2006,-0.62],[2018,1.07],[2030,0.25],[2042,-0.40],
[2054,1.20],[2066,-0.95],[2078,1.75],[2090,0.30],[2102,-1.25],[2114,1.50],[2126,0.62],[2138,-0.55],[2150,1.10],[2162,0.20],
[2174,-1.30],[2186,1.38],[2198,0.78],[2210,-0.70],[2222,1.92],[2234,0.15],[2246,-1.15],[2258,1.25],[2270,0.55],[2282,-0.40],
[2294,1.58],[2306,0.85],[2318,-1.00],[2330,1.35],[2342,0.05]
];
const indexEdge = [
[20,2.32],[32,2.38],[273,2.46],[518,3.51],[530,2.95],[645,2.32],[530,1.76],[877,1.96],[890,1.48],[61,-2.40],
[143,-2.35],[196,-2.21],[273,-3.40],[285,-1.92],[375,-1.78],[428,-2.29],[490,-2.06],[542,-2.26],[514,-1.64],[743,-1.78],
[890,-2.06],[890,-3.00],[878,-3.34],[959,-2.00],[1040,-1.78],[1102,-2.21],[1135,-2.77],
[2244,5.21],[2256,4.81],[2114,4.24],[1864,3.51],[2236,3.45],[2195,3.31],[2285,2.89],[2102,2.95],[2183,2.46],[1632,2.66],
[1367,2.83],[1428,2.46],[1530,2.38],[1203,2.41],[1264,2.32],[1906,2.38],[1815,2.18],[1754,1.82],
[1142,-2.83],[1264,-2.91],[1367,-4.04],[1379,-3.62],[1355,-3.19],[1408,-3.34],[1436,-2.77],[1509,-2.49],[1542,-3.96],
[1591,-4.19],[1583,-3.19],[1530,-3.00],[1705,-4.61],[1734,-3.62],[1754,-4.19],[1775,-3.76],[1796,-3.19],[1815,-2.77],
[1828,-2.21],[1857,-1.92],[1652,-2.21],[1632,-2.06],[2048,-2.63],[2081,-3.76],[2114,-5.31],[2114,-7.01],[2114,-7.44],
[2203,-3.28],[2244,-4.69],[2142,-2.35],[2183,-1.92],[2285,-1.64],[1224,-1.92],[1122,-2.21],
[48,1.72],[115,1.61],[210,1.85],[330,1.68],[455,1.77],[600,1.64],[720,1.81],[800,1.58],[960,1.73],[1060,1.66],[405,1.93],[150,1.55],
[40,-1.33],[100,-1.58],[170,-1.21],[240,-1.47],[320,-1.12],[395,-1.36],[470,-1.62],[560,-1.29],[630,-1.51],[700,-1.18],
[780,-1.42],[850,-1.27],[930,-1.55],[1000,-1.23],[1080,-1.48],[1110,-1.70],[5,-1.15],[660,-1.81],
[1560,-1.55],[1600,-1.72],[1690,-1.68],[1720,-2.05],[1760,-1.90],[1800,-1.62],[1880,-1.75],[1940,-1.35],[1990,-1.28],
[2010,1.75],[1960,1.68],[1700,2.05],[1620,2.15],[1480,2.02],[1300,2.08],[1250,-1.48],[1180,-1.62],[1330,-1.35],
[1400,-2.60],[1420,-1.95],[1450,-2.15],[1390,-2.35],[1460,-1.30],
[2060,-2.00],[2130,-2.10],[2160,2.55],[2200,2.60],[2220,-2.20],[2270,2.35],[2300,-1.95],[2330,2.50],[2120,-2.45],[2250,-2.85]
];
const indexXTicks = [0,500,1000,1500,2000];
const indexXLabels = ['0','500','1000','1500','2000'];
const zeroLineY = 0;

// ---------------- STYLE / LAYOUT ----------------
const FONT = "'Liberation Sans', Arial, Helvetica, sans-serif";
Chart.defaults.font.family = FONT;
Chart.defaults.font.size = 12;
Chart.defaults.color = '#000';

const tickGrid = { display: true, drawOnChartArea: false, drawTicks: true, tickLength: 7, color: '#000', lineWidth: 1, offset: false };

function xScale(o) {
  return {
    type: 'linear', position: 'bottom', min: o.min, max: o.max, offset: false, bounds: 'data',
    afterBuildTicks: s => { s.ticks = o.ticks.map(v => ({ value: v })); },
    afterFit: s => { s.height = o.size; },
    grid: tickGrid,
    border: { display: false },
    ticks: { padding: o.pad, autoSkip: false, maxRotation: 0, minRotation: 0, color: '#000',
             font: { size: 12 }, callback: (v, i) => o.labels[i] },
    title: { display: true, text: o.title, color: '#000', font: { size: 12 },
             padding: { top: 0, bottom: o.titlePad } }
  };
}
function yScale(o) {
  return {
    type: 'linear', position: 'left', min: o.min, max: o.max, bounds: 'data',
    afterBuildTicks: s => { s.ticks = o.ticks.map(v => ({ value: v })); },
    afterFit: s => { s.width = o.size; },
    grid: tickGrid,
    border: { display: false },
    ticks: { padding: o.pad, autoSkip: false, minRotation: 90, maxRotation: 90, crossAlign: 'center',
             color: '#000', font: { size: 12 }, callback: (v, i) => o.labels[i] },
    title: { display: true, text: o.title, color: '#000', font: { size: 12 },
             padding: { top: o.titlePad, bottom: 0 } }
  };
}
function spacer(w) {
  return { type: 'linear', position: 'right', display: true, afterFit: s => { s.width = w; },
           grid: { display: false }, border: { display: false }, ticks: { display: false } };
}
function mainTitle(text) {
  return { display: true, text, color: '#000', font: { size: 14, weight: 'bold' },
           padding: { top: 6.6, bottom: 19.4 } };
}
const boxPlugin = {
  id: 'rbox',
  afterDraw(chart) {
    const { ctx, chartArea: a } = chart;
    ctx.save();
    ctx.strokeStyle = '#000';
    ctx.lineWidth = 1;
    const l = Math.floor(a.left) + 0.5, t = Math.floor(a.top) + 0.5;
    const r = Math.floor(a.right) + 0.5, b = Math.floor(a.bottom) + 0.5;
    ctx.strokeRect(l, t, r - l, b - t);
    ctx.restore();
  }
};
const histAxisPlugin = {
  id: 'raxis',
  afterDraw(chart) {
    const { ctx, chartArea: a, scales: { x, y } } = chart;
    ctx.save();
    ctx.strokeStyle = '#000';
    ctx.lineWidth = 1;
    ctx.beginPath();
    const yb = Math.floor(a.bottom) + 0.5;
    ctx.moveTo(x.getPixelForValue(histXTicks[0]), yb);
    ctx.lineTo(x.getPixelForValue(histXTicks[histXTicks.length - 1]), yb);
    const xl = Math.floor(a.left) + 0.5;
    ctx.moveTo(xl, y.getPixelForValue(histYTicks[0]));
    ctx.lineTo(xl, y.getPixelForValue(histYTicks[histYTicks.length - 1]));
    ctx.stroke();
    ctx.restore();
  }
};
const base = { responsive: false, devicePixelRatio: 1, animation: false, events: [] };
const noLegend = { legend: { display: false }, tooltip: { enabled: false } };
const blueRing = { pointRadius: 2.8, pointBorderWidth: 1.2, pointBorderColor: '#0000ff', pointBackgroundColor: 'rgba(0,0,0,0)', showLine: false };
const toXY = arr => arr.map(p => ({ x: p[0], y: p[1] }));

// ---------- 1. Histogram ----------
const histBars = histCounts.map((c, i) => ({ x: (histBreaks[i] + histBreaks[i + 1]) / 2, y: c }));
new Chart(document.getElementById('histCanvas'), {
  type: 'bar',
  data: { datasets: [
    { type: 'line', data: [{ x: histBreaks[0], y: 0 }, { x: histBreaks[histBreaks.length - 1], y: 0 }],
      borderColor: '#333', borderWidth: 1, pointRadius: 0, tension: 0 },
    { type: 'bar', data: histBars, backgroundColor: 'rgba(0,0,0,0)', borderColor: '#000', borderWidth: 0.75,
      borderSkipped: false, barPercentage: 1, categoryPercentage: 1 }
  ] },
  options: Object.assign({}, base, {
    layout: { padding: 0 },
    plugins: Object.assign({}, noLegend, { title: mainTitle('Histogram of suhuMinFor$residuals') }),
    scales: {
      x: xScale({ min: -8.56, max: 6.56, ticks: histXTicks, labels: histXLabels, size: 75.7, pad: 8.5,
                  title: 'suhuMinFor$residuals', titlePad: 17.8 }),
      y: yScale({ min: -39.8, max: 1033.8, ticks: histYTicks, labels: histYLabels, size: 65.7, pad: 2.0,
                  title: 'Frequency', titlePad: 11.1 }),
      yR: spacer(66.1)
    }
  }),
  plugins: [histAxisPlugin]
});

// ---------- 2. Normal Q-Q ----------
new Chart(document.getElementById('qqCanvas'), {
  type: 'scatter',
  data: { datasets: [
    { data: qqLineX.map((v, i) => ({ x: v, y: qqLineY[i] })), showLine: true, borderColor: '#333', borderWidth: 1,
      pointRadius: 0, clip: 0 },
    { data: toXY(qqPoints), pointRadius: 2.8, pointBorderWidth: 1.1, pointBorderColor: '#000',
      pointBackgroundColor: 'rgba(0,0,0,0)', showLine: false }
  ] },
  options: Object.assign({}, base, {
    layout: { padding: 0 },
    plugins: Object.assign({}, noLegend, { title: mainTitle('Normal Q-Q Plot') }),
    scales: {
      x: xScale({ min: -3.85, max: 3.85, ticks: qqXTicks, labels: qqXLabels, size: 75.9, pad: 6.5,
                  title: 'Theoretical Quantiles', titlePad: 17.8 }),
      y: yScale({ min: -7.99, max: 5.71, ticks: residTicks, labels: residLabels, size: 77.3, pad: 6.65,
                  title: 'Sample Quantiles', titlePad: 21.8 }),
      yR: spacer(77)
    }
  }),
  plugins: [boxPlugin]
});

// ---------- 3. Residuals vs fitted ----------
const fitMin = 20.44, fitMax = 25.27;
new Chart(document.getElementById('fitCanvas'), {
  type: 'scatter',
  data: { datasets: [
    { data: [{ x: fitMin, y: zeroLineY }, { x: fitMax, y: zeroLineY }], showLine: true, borderColor: '#000',
      borderWidth: 1, pointRadius: 0, clip: 0 },
    Object.assign({ data: toXY(fittedCore.concat(fittedCoreB, fittedEdge)) }, blueRing)
  ] },
  options: Object.assign({}, base, {
    layout: { padding: { top: 43.3, right: 19.2, left: 0, bottom: 0 } },
    plugins: noLegend,
    scales: {
      x: xScale({ min: fitMin, max: fitMax, ticks: fittedXTicks, labels: fittedXLabels, size: 58.7, pad: 8.8,
                  title: 'suhuMinFor$fitted', titlePad: 0.1 }),
      y: yScale({ min: -8.0, max: 5.72, ticks: residTicks, labels: residLabels, size: 66.3, pad: 10.65,
                  title: 'suhuMinFor$residuals', titlePad: 19.8 })
    }
  }),
  plugins: [boxPlugin]
});

// ---------- 4. Residuals vs index ----------
const idxMin = -94, idxMax = 2410;
new Chart(document.getElementById('seqCanvas'), {
  type: 'scatter',
  data: { datasets: [
    { data: [{ x: idxMin, y: zeroLineY }, { x: idxMax, y: zeroLineY }], showLine: true, borderColor: '#000',
      borderWidth: 1, pointRadius: 0, clip: 0 },
    Object.assign({ data: toXY(indexCore.concat(indexCoreB, indexCoreC, indexEdge)) }, blueRing)
  ] },
  options: Object.assign({}, base, {
    layout: { padding: { top: 43.3, right: 8.2, left: 0, bottom: 0 } },
    plugins: noLegend,
    scales: {
      x: xScale({ min: idxMin, max: idxMax, ticks: indexXTicks, labels: indexXLabels, size: 58.7, pad: 7.8,
                  title: 'seq(1:nrow(data))', titlePad: 0.1 }),
      y: yScale({ min: -8.0, max: 5.72, ticks: residTicks, labels: residLabels, size: 77.3, pad: 6.65,
                  title: 'suhuMinFor$residuals', titlePad: 21.8 })
    }
  }),
  plugins: [boxPlugin]
});
</script>
</body>
</html>
